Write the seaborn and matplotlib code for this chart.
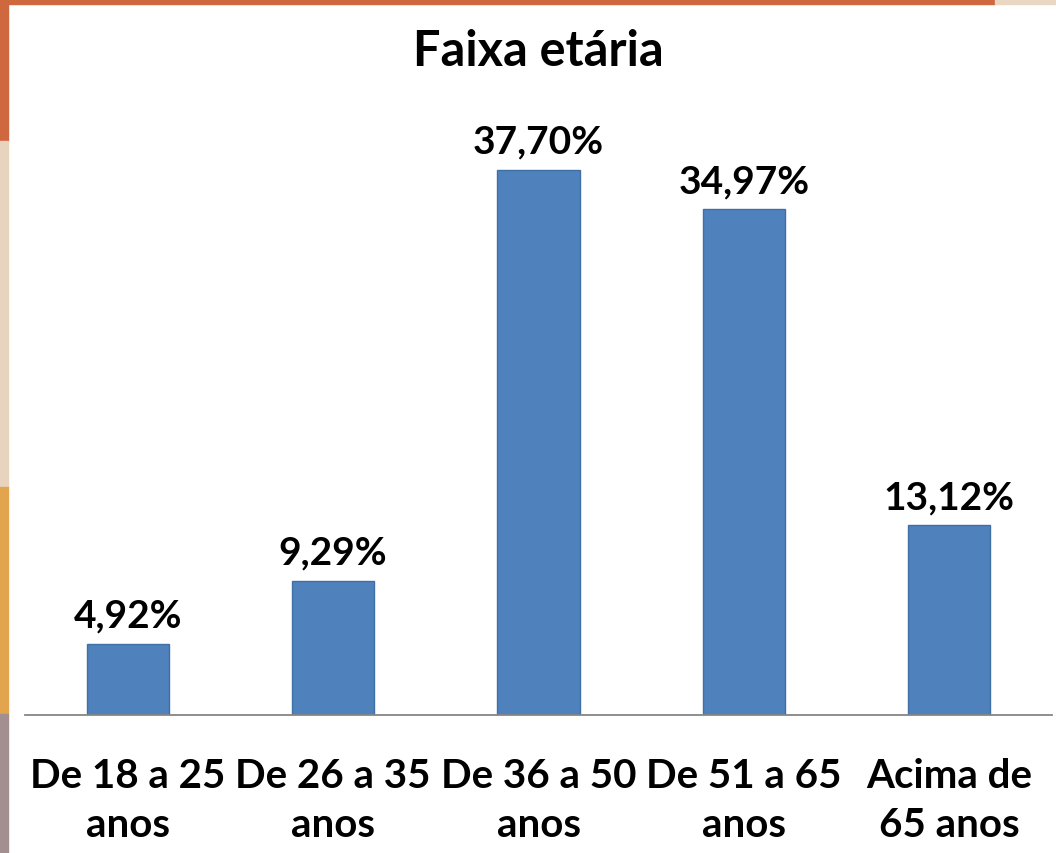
import matplotlib
matplotlib.use("Agg")
import matplotlib.pyplot as plt
import seaborn as sns
import pandas as pd
from matplotlib.patches import Rectangle

categories = ["De 18 a 25\nanos", "De 26 a 35\nanos", "De 36 a 50\nanos", "De 51 a 65\nanos", "Acima de\n65 anos"]
values = [4.92, 9.29, 37.70, 34.97, 13.12]
value_labels = ["4,92%", "9,29%", "37,70%", "34,97%", "13,12%"]
title = "Faixa etária"

sns.set_theme(style="white")
plt.rcParams['font.family'] = ['Lato', 'DejaVu Sans']

W, H = 1056, 854
fig = plt.figure(figsize=(W / 100, H / 100), dpi=100)
fig.patch.set_facecolor("white")

# decorative frame strips (pixel coords from top-left)
def strip(x0, y0, x1, y1, color):
    fig.patches.append(Rectangle((x0 / W, 1 - y1 / H), (x1 - x0) / W, (y1 - y0) / H,
                                 transform=fig.transFigure, color=color, zorder=0))

strip(0, 0, 995, 5, "#D0683F")
strip(995, 0, W, 5, "#E9D6C3")
strip(0, 0, 8, 142, "#D0683F")
strip(0, 142, 8, 488, "#E8D3BE")
strip(0, 488, 8, 715, "#E2A54D")
strip(0, 715, 8, H, "#A48F90")

ax_left, ax_right, ax_top, ax_bottom = 25, 1052, 102, 716
ax = fig.add_axes([ax_left / W, 1 - ax_bottom / H, (ax_right - ax_left) / W, (ax_bottom - ax_top) / H])
ax.set_facecolor("none")

df = pd.DataFrame({"cat": categories, "val": values})
sns.barplot(data=df, x="cat", y="val", color="#4F81BD", saturation=1, width=0.4,
            edgecolor="#3F6FA5", linewidth=1.0, ax=ax)

ymax = (ax_bottom - ax_top) / ((715 - 170) / 37.70)
ax.set_ylim(0, ymax)
ax.set_xlim(-0.5, len(categories) - 0.5)

ax.bar_label(ax.containers[0], labels=value_labels, padding=8,
             fontsize=28, fontweight="bold", color="black")

for s in ["left", "right", "top"]:
    ax.spines[s].set_visible(False)
ax.spines["bottom"].set_color("#868686")
ax.spines["bottom"].set_linewidth(1.3)
ax.set_yticks([])
ax.set_xlabel("")
ax.set_ylabel("")
ax.tick_params(axis="x", length=0, pad=30)
for lab in ax.get_xticklabels():
    lab.set_fontsize(29)
    lab.set_fontweight("bold")
    lab.set_color("black")
    lab.set_linespacing(1.4)

fig.text(538 / W, 1 - 52 / H, title, ha="center", va="center",
         fontsize=35, fontweight="bold", color="black")

fig.savefig("out.png", dpi=100, facecolor=fig.get_facecolor())
